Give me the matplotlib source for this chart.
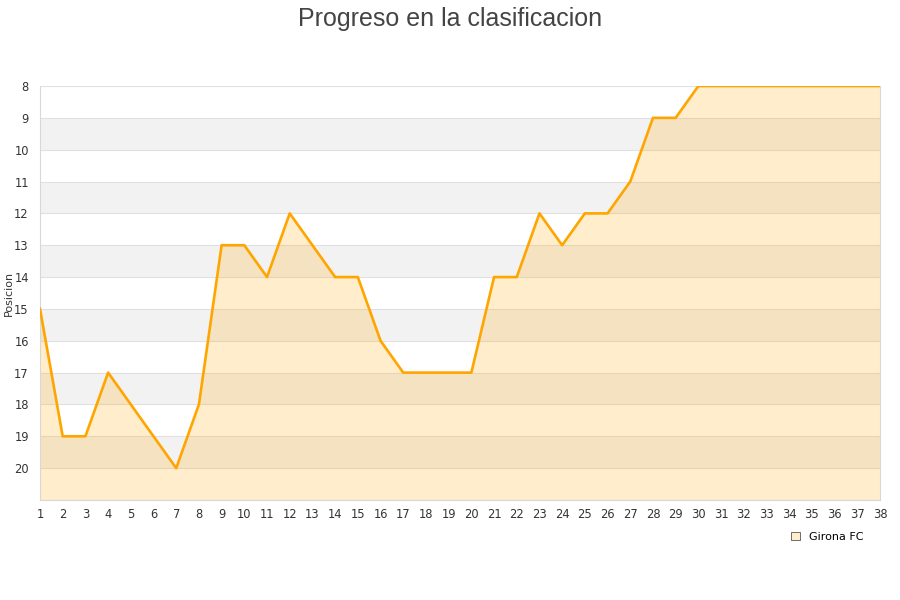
import numpy as np
import matplotlib
matplotlib.use("Agg")
from matplotlib import pyplot as plt
from matplotlib.patches import Patch

# jornadas y posiciones
jornadas = list(range(1, 39))
posicion = [15, 19, 19, 17, 18, 19, 20, 18, 13, 13,
            14, 12, 13, 14, 14, 16, 17, 17, 17, 17,
            14, 14, 12, 13, 12, 12, 11, 9, 9, 8,
            8, 8, 8, 8, 8, 8, 8, 8]
equipo = "Girona FC"

fig = plt.figure(figsize=(9, 6), dpi=100)
ax = fig.add_axes([40/900, 1-500/600, 840/900, 414/600])

# bandas alternas
for y in range(9, 21, 2):
    ax.axhspan(y, y+1, color="#f2f2f2", zorder=0, lw=0)
for y in range(8, 22):
    ax.axhline(y, color="#e0e0e0", lw=0.8, zorder=1)

ax.fill_between(jornadas, posicion, 21, color="orange", alpha=0.2, lw=0, zorder=2)
ax.plot(jornadas, posicion, color="orange", lw=1.9, zorder=3)

ax.set_xlim(1, 38)
ax.set_ylim(21, 8)
ax.set_xticks(jornadas)
ax.set_yticks(range(8, 21))
ax.tick_params(length=0, labelsize=8.3, colors="#333333", pad=6)
ax.tick_params(axis="y", pad=8)
for s in ax.spines.values():
    s.set_color("#d8d8d8")
ax.spines["top"].set_visible(False)

ax.set_ylabel("Posicion", fontsize=8, color="#333333", labelpad=0)
fig.suptitle("Progreso en la clasificacion", fontsize=18, color="#444444", y=0.988,
             family="Liberation Sans")

handle = Patch(facecolor="#ffedcc", edgecolor="#555555", lw=0.6)
fig.legend([handle], [equipo], loc="lower right", bbox_to_anchor=(0.97, 0.08),
           frameon=False, fontsize=8, handlelength=0.8, handleheight=0.8)

fig.savefig("out.png", dpi=100)
